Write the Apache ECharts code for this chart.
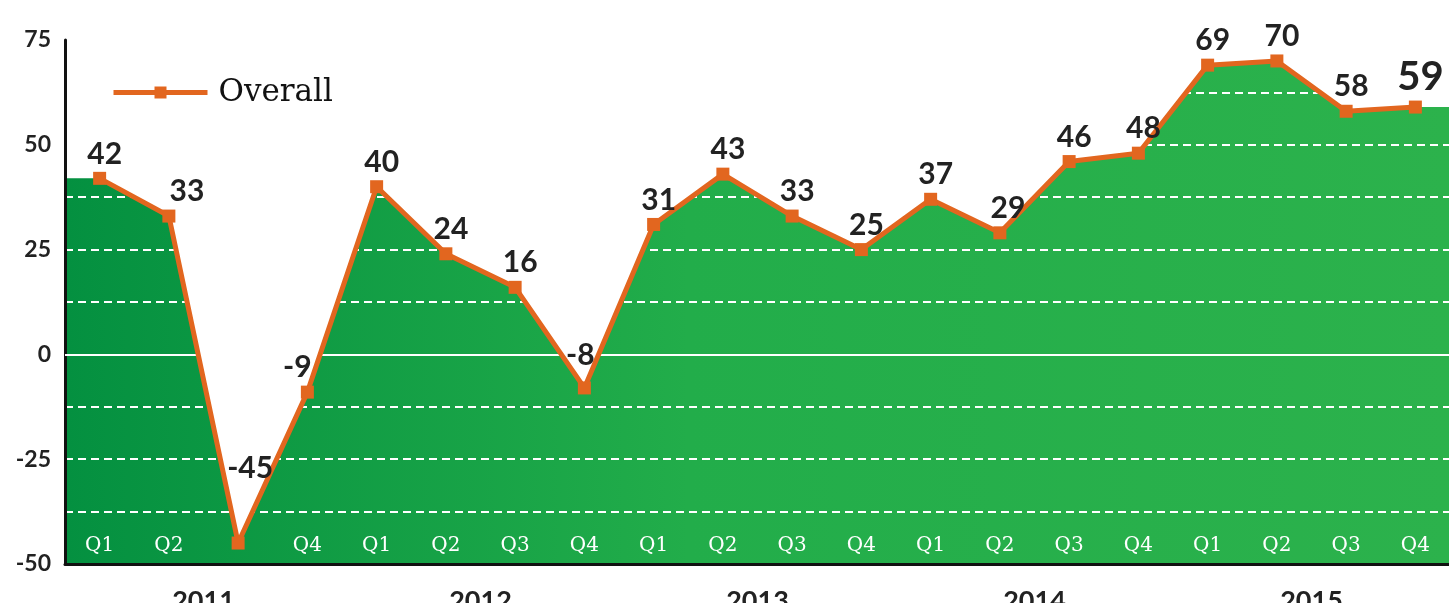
<!DOCTYPE html>
<html>
<head>
<meta charset="utf-8">
<title>Overall</title>
<script src="https://cdn.jsdelivr.net/npm/echarts@6/dist/echarts.min.js"></script>
<style>
	html, body { margin: 0; padding: 0; background: #fff; }
	#chart { width: 1449px; height: 603px; }
</style>
</head>
<body>
<div id="chart"></div>
<script>
	var quarters = ['Q1', 'Q2', 'Q3', 'Q4', 'Q1', 'Q2', 'Q3', 'Q4', 'Q1', 'Q2', 'Q3', 'Q4', 'Q1', 'Q2', 'Q3', 'Q4', 'Q1', 'Q2', 'Q3', 'Q4'];
	var years = ['2011', '2012', '2013', '2014', '2015'];
	var overall = [42, 33, -45, -9, 40, 24, 16, -8, 31, 43, 33, 25, 37, 29, 46, 48, 69, 70, 58, 59];
	var yTickLabels = [-50, -25, 0, 25, 50, 75];

	// the quarter label hidden behind the dip
	var hiddenQuarter = 2;

	// label nudges so they sit like the original
	var labelOffsets = { 1: [18, 0], 2: [12, -50], 3: [-10, 0], 7: [-4, -8], 13: [8, 0] };

	var lineData = overall.map(function (v, i) {
		var item = { value: v, label: { offset: labelOffsets[i] || [5, 0] } };
		if (i === overall.length - 1) {
			item.label.fontSize = 40;
		}
		return item;
	});

	// area runs flat out to both edges of the plot
	var areaData = [[0, overall[0]]];
	overall.forEach(function (v, i) {
		areaData.push([i + 0.5, v]);
	});
	areaData.push([overall.length, overall[overall.length - 1]]);

	var chart = echarts.init(document.getElementById('chart'));
	var option = {
		animation: false,
		grid: {
			left: 65,
			right: -1,
			top: 40,
			bottom: 39,
			outerBoundsMode: 'none'
		},
		legend: {
			data: ['Overall'],
			left: 106,
			top: 72,
			itemWidth: 94,
			itemHeight: 15,
			lineStyle: { width: 5 },
			textStyle: {
				fontFamily: 'DejaVu Serif',
				fontSize: 31,
				color: '#111',
				padding: [0, 0, 0, 6]
			}
		},
		xAxis: [
			{
				type: 'category',
				data: quarters,
				z: 3,
				axisLine: { onZero: false, lineStyle: { color: '#111', width: 3 } },
				axisTick: { alignWithLabel: true, length: 9, lineStyle: { color: '#111', width: 2 } },
				axisLabel: {
					inside: true,
					margin: 8,
					color: '#fff',
					fontFamily: 'DejaVu Serif',
					fontSize: 20,
					formatter: function (v, i) {
						return i === hiddenQuarter ? '' : v;
					}
				},
				splitLine: { show: false }
			},
			{
				type: 'category',
				data: years,
				position: 'bottom',
				axisLine: { show: false, onZero: false },
				axisTick: { show: false },
				axisLabel: {
					margin: 24,
					color: '#222',
					fontFamily: 'Lato',
					fontWeight: 'bold',
					fontSize: 27
				}
			},
			{
				type: 'value',
				min: 0,
				max: quarters.length,
				show: false
			}
		],
		yAxis: {
			type: 'value',
			min: -50,
			max: 75,
			interval: 12.5,
			z: 3,
			axisLine: { show: true, lineStyle: { color: '#111', width: 3 } },
			axisTick: { show: false },
			axisLabel: {
				margin: 14,
				color: '#222',
				fontFamily: 'Lato',
				fontWeight: 'bold',
				fontSize: 23,
				formatter: function (v) {
					return yTickLabels.indexOf(v) >= 0 ? String(v) : '';
				}
			},
			splitLine: {
				show: true,
				lineStyle: { color: '#fff', width: 2, type: [8, 5] }
			}
		},
		series: [
			{
				name: 'area',
				type: 'line',
				xAxisIndex: 2,
				data: areaData,
				symbol: 'none',
				silent: true,
				z: 2,
				lineStyle: { width: 0 },
				areaStyle: {
					origin: 'start',
					opacity: 1,
					color: new echarts.graphic.LinearGradient(0, 0, 1, 0, [
						{ offset: 0, color: '#049040' },
						{ offset: 0.45, color: '#22ad4a' },
						{ offset: 1, color: '#2cb24c' }
					])
				},
				markLine: {
					silent: true,
					symbol: 'none',
					label: { show: false },
					lineStyle: { color: '#fff', width: 2, type: 'solid' },
					data: [{ yAxis: 0 }]
				}
			},
			{
				name: 'Overall',
				type: 'line',
				data: lineData,
				z: 5,
				symbol: 'rect',
				symbolSize: 13,
				itemStyle: { color: '#e2661f' },
				lineStyle: { color: '#e2661f', width: 5 },
				label: {
					show: true,
					position: 'top',
					distance: 3,
					color: '#222',
					fontFamily: 'Lato',
					fontWeight: 'bold',
					fontSize: 30
				}
			}
		]
	};
	chart.setOption(option);
</script>
</body>
</html>
